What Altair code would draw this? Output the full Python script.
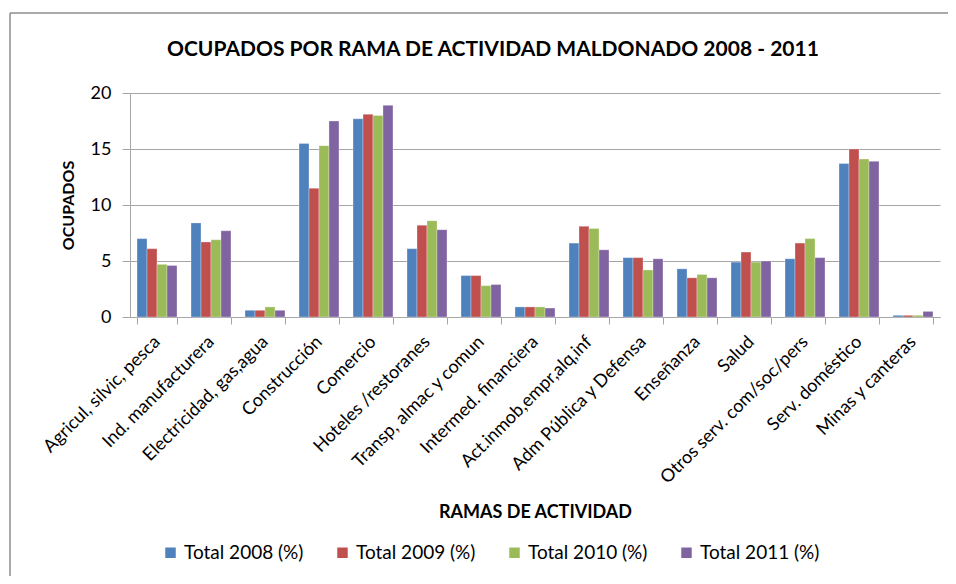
import altair as alt
import pandas as pd

categories = ["Agricul, silvic, pesca", "Ind. manufacturera", "Electricidad, gas,agua",
              "Construcción", "Comercio", "Hoteles /restoranes", "Transp, almac y comun",
              "Intermed. financiera", "Act.inmob,empr,alq,inf", "Adm Pública y Defensa",
              "Enseñanza", "Salud", "Otros serv. com/soc/pers", "Serv. doméstico",
              "Minas y canteras"]
series = ["Total 2008 (%)", "Total 2009 (%)", "Total 2010 (%)", "Total 2011 (%)"]
v2008 = [7.0, 8.4, 0.6, 15.5, 17.7, 6.1, 3.7, 0.9, 6.6, 5.3, 4.3, 4.9, 5.2, 13.7, 0.15]
v2009 = [6.1, 6.7, 0.6, 11.5, 18.1, 8.2, 3.7, 0.9, 8.1, 5.3, 3.5, 5.8, 6.6, 15.0, 0.15]
v2010 = [4.7, 6.9, 0.9, 15.3, 18.0, 8.6, 2.8, 0.9, 7.9, 4.2, 3.8, 4.9, 7.0, 14.1, 0.15]
v2011 = [4.6, 7.7, 0.6, 17.5, 18.9, 7.8, 2.9, 0.8, 6.0, 5.2, 3.5, 5.0, 5.3, 13.9, 0.5]
colors = ["#4F81BD", "#C0504D", "#9BBB59", "#8064A2"]
y_ticks = [0, 5, 10, 15, 20]

rows = []
for s, vals in zip(series, [v2008, v2009, v2010, v2011]):
    for c, v in zip(categories, vals):
        rows.append({"rama": c, "serie": s, "valor": v})
df = pd.DataFrame(rows)

FONT = "Lato"
GRAY = "#a6a6a6"

bars = alt.Chart(df).mark_bar(stroke="white", strokeWidth=0.6, strokeOpacity=0.5).encode(
    x=alt.X("rama:N", sort=categories,
            scale=alt.Scale(paddingInner=0.26, paddingOuter=0.13),
            axis=alt.Axis(title="RAMAS DE ACTIVIDAD", labelAngle=-45, labelAlign="right",
                          labelBaseline="middle", tickBand="extent", tickSize=7,
                          tickColor=GRAY, domainColor=GRAY, labelPadding=15,
                          labelFontSize=18, labelFont=FONT, labelColor="black",
                          titleFont=FONT, titleFontSize=18, titleFontWeight="bold",
                          titleColor="black", titleY=195, titleBaseline="middle",
                          labelLimit=400)),
    xOffset=alt.XOffset("serie:N", sort=series,
                        scale=alt.Scale(paddingInner=0, paddingOuter=0)),
    y=alt.Y("valor:Q", scale=alt.Scale(domain=[0, 20], nice=False),
            axis=alt.Axis(title="OCUPADOS", values=y_ticks, tickSize=8, tickColor=GRAY,
                          domainColor=GRAY, gridColor=GRAY, labelPadding=11,
                          labelFontSize=18, labelFont=FONT, labelColor="black",
                          titleFont=FONT, titleFontSize=16, titleFontWeight="bold",
                          titleColor="black", titleX=-54)),
    color=alt.Color("serie:N", sort=series,
                    scale=alt.Scale(domain=series, range=colors),
                    legend=alt.Legend(title=None, orient="none", legendX=31, legendY=450,
                                      direction="horizontal", symbolType="square",
                                      symbolSize=110, symbolStrokeWidth=0,
                                      labelFontSize=19, labelFont=FONT, labelColor="black",
                                      columnPadding=29, labelOffset=4)),
)

frame_df = pd.DataFrame({"a": [0]})
border_top = alt.Chart(frame_df).mark_rule(stroke="#8c8c8c", strokeWidth=1.5).encode(
    x=alt.value(-120), x2=alt.value(830), y=alt.value(-80))
border_left = alt.Chart(frame_df).mark_rule(stroke="#8c8c8c", strokeWidth=1.5).encode(
    x=alt.value(-120), y=alt.value(-80), y2=alt.value(500))

chart = alt.layer(border_top, border_left, bars).properties(
    width=810, height=224,
    title=alt.TitleParams("OCUPADOS POR RAMA DE ACTIVIDAD MALDONADO 2008 - 2011",
                          anchor="start", frame="group", dx=37, dy=65, fontSize=21,
                          font=FONT, fontWeight="bold", color="black", offset=0,
                          baseline="alphabetic"),
    autosize=alt.AutoSizeParams(type="none"),
    padding={"left": 122, "top": 85, "right": 8, "bottom": 259},
).configure_view(strokeWidth=0).configure_axis(grid=False).configure_axisY(grid=True)

chart.save("out.html", embed_options={"renderer": "svg", "actions": False})
